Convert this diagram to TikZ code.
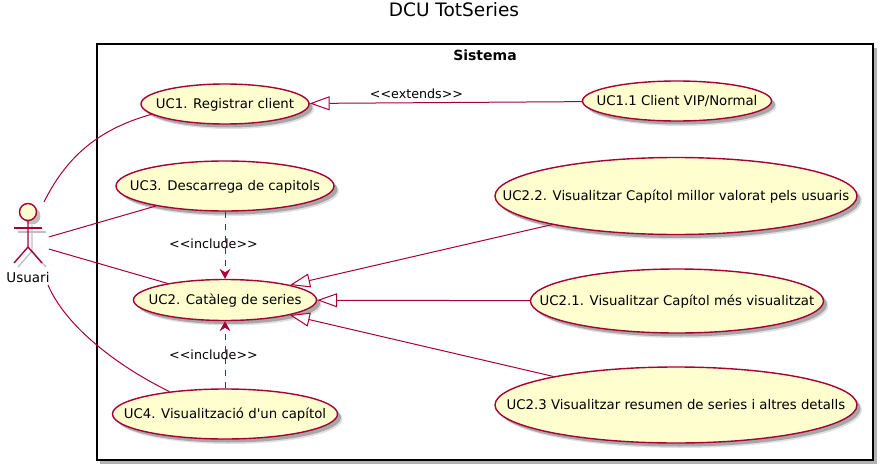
\documentclass[tikz,border=0pt]{standalone}
\usepackage{fontspec}
\setmainfont[Ligatures=TeXOff]{DejaVu Sans}
\usetikzlibrary{arrows.meta,shadows,shapes.geometric}
\definecolor{umlline}{HTML}{A80036}
\definecolor{umlfill}{HTML}{FEFECE}
\newcommand{\uctext}[1]{\makebox[0pt]{\raisebox{-0.36em}[0pt][0pt]{#1}}}
\tikzset{
  softshadow/.style = {
    drop shadow={shadow xshift=5pt,shadow yshift=-5pt,fill=black,opacity=0.12},
    drop shadow={shadow xshift=3.5pt,shadow yshift=-3.5pt,fill=black,opacity=0.25}
  },
  usecase/.style = {
    ellipse,draw=umlline,fill=umlfill,line width=1.4pt,inner sep=0pt,
    font=\fontsize{13.3}{15}\selectfont,softshadow
  },
  link/.style = {draw=umlline,line width=1pt},
  extendlink/.style = {link,{Triangle[open,fill=white,length=20pt,width=14pt]}-},
  includelink/.style = {link,dash pattern=on 6pt off 6pt,-{Stealth[inset=3.5pt,length=10pt,width=11pt]}},
  edgelabel/.style = {font=\fontsize{12.7}{15}\selectfont,inner sep=0pt},
  actorline/.style = {umlline,line width=1.4pt}
}
\begin{document}
\begin{tikzpicture}[x=1pt,y=-1pt]
  \useasboundingbox (0,0) rectangle (884,471);
  \node[font=\fontsize{18.5}{20}\selectfont] (title) at (454,10) {DCU TotSeries};
  \fill[black!30] (100,48) rectangle (877,464);
  \node[draw,fill=white,line width=1.5pt,minimum width=776pt,minimum height=416pt,inner sep=0pt] (sistema) at (485,252) {};
  \node[font=\fontsize{14}{16}\selectfont\bfseries] (sistematitle) at (485,55) {Sistema};

  \node[usecase,minimum width=168pt,minimum height=40pt] (uc1) at (225,104) {\uctext{UC1. Registrar client}};
  \node[usecase,minimum width=218pt,minimum height=50pt] (uc3) at (225,186) {\uctext{UC3. Descarrega de capitols}};
  \node[usecase,minimum width=183pt,minimum height=41pt] (uc2) at (225,300) {\uctext{UC2. Catàleg de series}};
  \node[usecase,minimum width=225pt,minimum height=50pt] (uc4) at (225,414) {\uctext{UC4. Visualització d'un capítol}};
  \node[usecase,minimum width=189pt,minimum height=40pt] (uc11) at (677,101) {\uctext{UC1.1 Client VIP/Normal}};
  \node[usecase,minimum width=362pt,minimum height=77pt] (uc22) at (676,196) {\uctext{UC2.2. Visualitzar Capítol millor valorat pels usuaris}};
  \node[usecase,minimum width=293pt,minimum height=64pt] (uc21) at (677,301) {\uctext{UC2.1. Visualitzar Capítol més visualitzat}};
  \node[usecase,minimum width=362pt,minimum height=76pt] (uc23) at (676,405) {\uctext{UC2.3 Visualitzar resumen de series i altres detalls}};

  % actor
  \begin{scope}[black!25,line width=1.4pt,shift={(4pt,-4pt)}]
    \draw (14,228) -- (42,228);
    \draw (28,221) -- (28,247) -- (14,263);
    \draw (28,247) -- (42,263);
    \fill (28,212) circle (8.5);
  \end{scope}
  \draw[actorline,fill=umlfill] (28,212) circle (8.5);
  \draw[actorline] (14,228) -- (42,228);
  \draw[actorline] (28,221) -- (28,247) -- (14,263);
  \draw[actorline] (28,247) -- (42,263);
  \node[font=\fontsize{13.5}{15}\selectfont,inner sep=0pt] (usuari) at (28,277) {Usuari};
  \node[circle,minimum size=43pt,inner sep=0pt] (actor) at (28,243) {};
  \coordinate (actortop) at (44,202);
  \coordinate (actorbot) at (48,285);

  \draw[link] (actortop) .. controls (65,160) and (95,130) .. (uc1.188);
  \draw[link] (actor) -- (uc3);
  \draw[link] (actor) -- (uc2);
  \draw[link] (actorbot) .. controls (65,325) and (115,365) .. (uc4.158);

  \draw[extendlink] (uc1) -- (uc11);
  \draw[extendlink] (uc2) -- (uc22);
  \draw[extendlink] (uc2) -- (uc21);
  \draw[extendlink] (uc2) -- (uc23);
  \draw[includelink] (uc3) -- (uc2);
  \draw[includelink] (uc4) -- (uc2);

  \node[edgelabel] (extendslabel) at (416.5,94) {<<extends>>};
  \node[edgelabel] (includeone) at (213.5,244) {<<include>>};
  \node[edgelabel] (includetwo) at (213.5,355) {<<include>>};
\end{tikzpicture}
\end{document}
